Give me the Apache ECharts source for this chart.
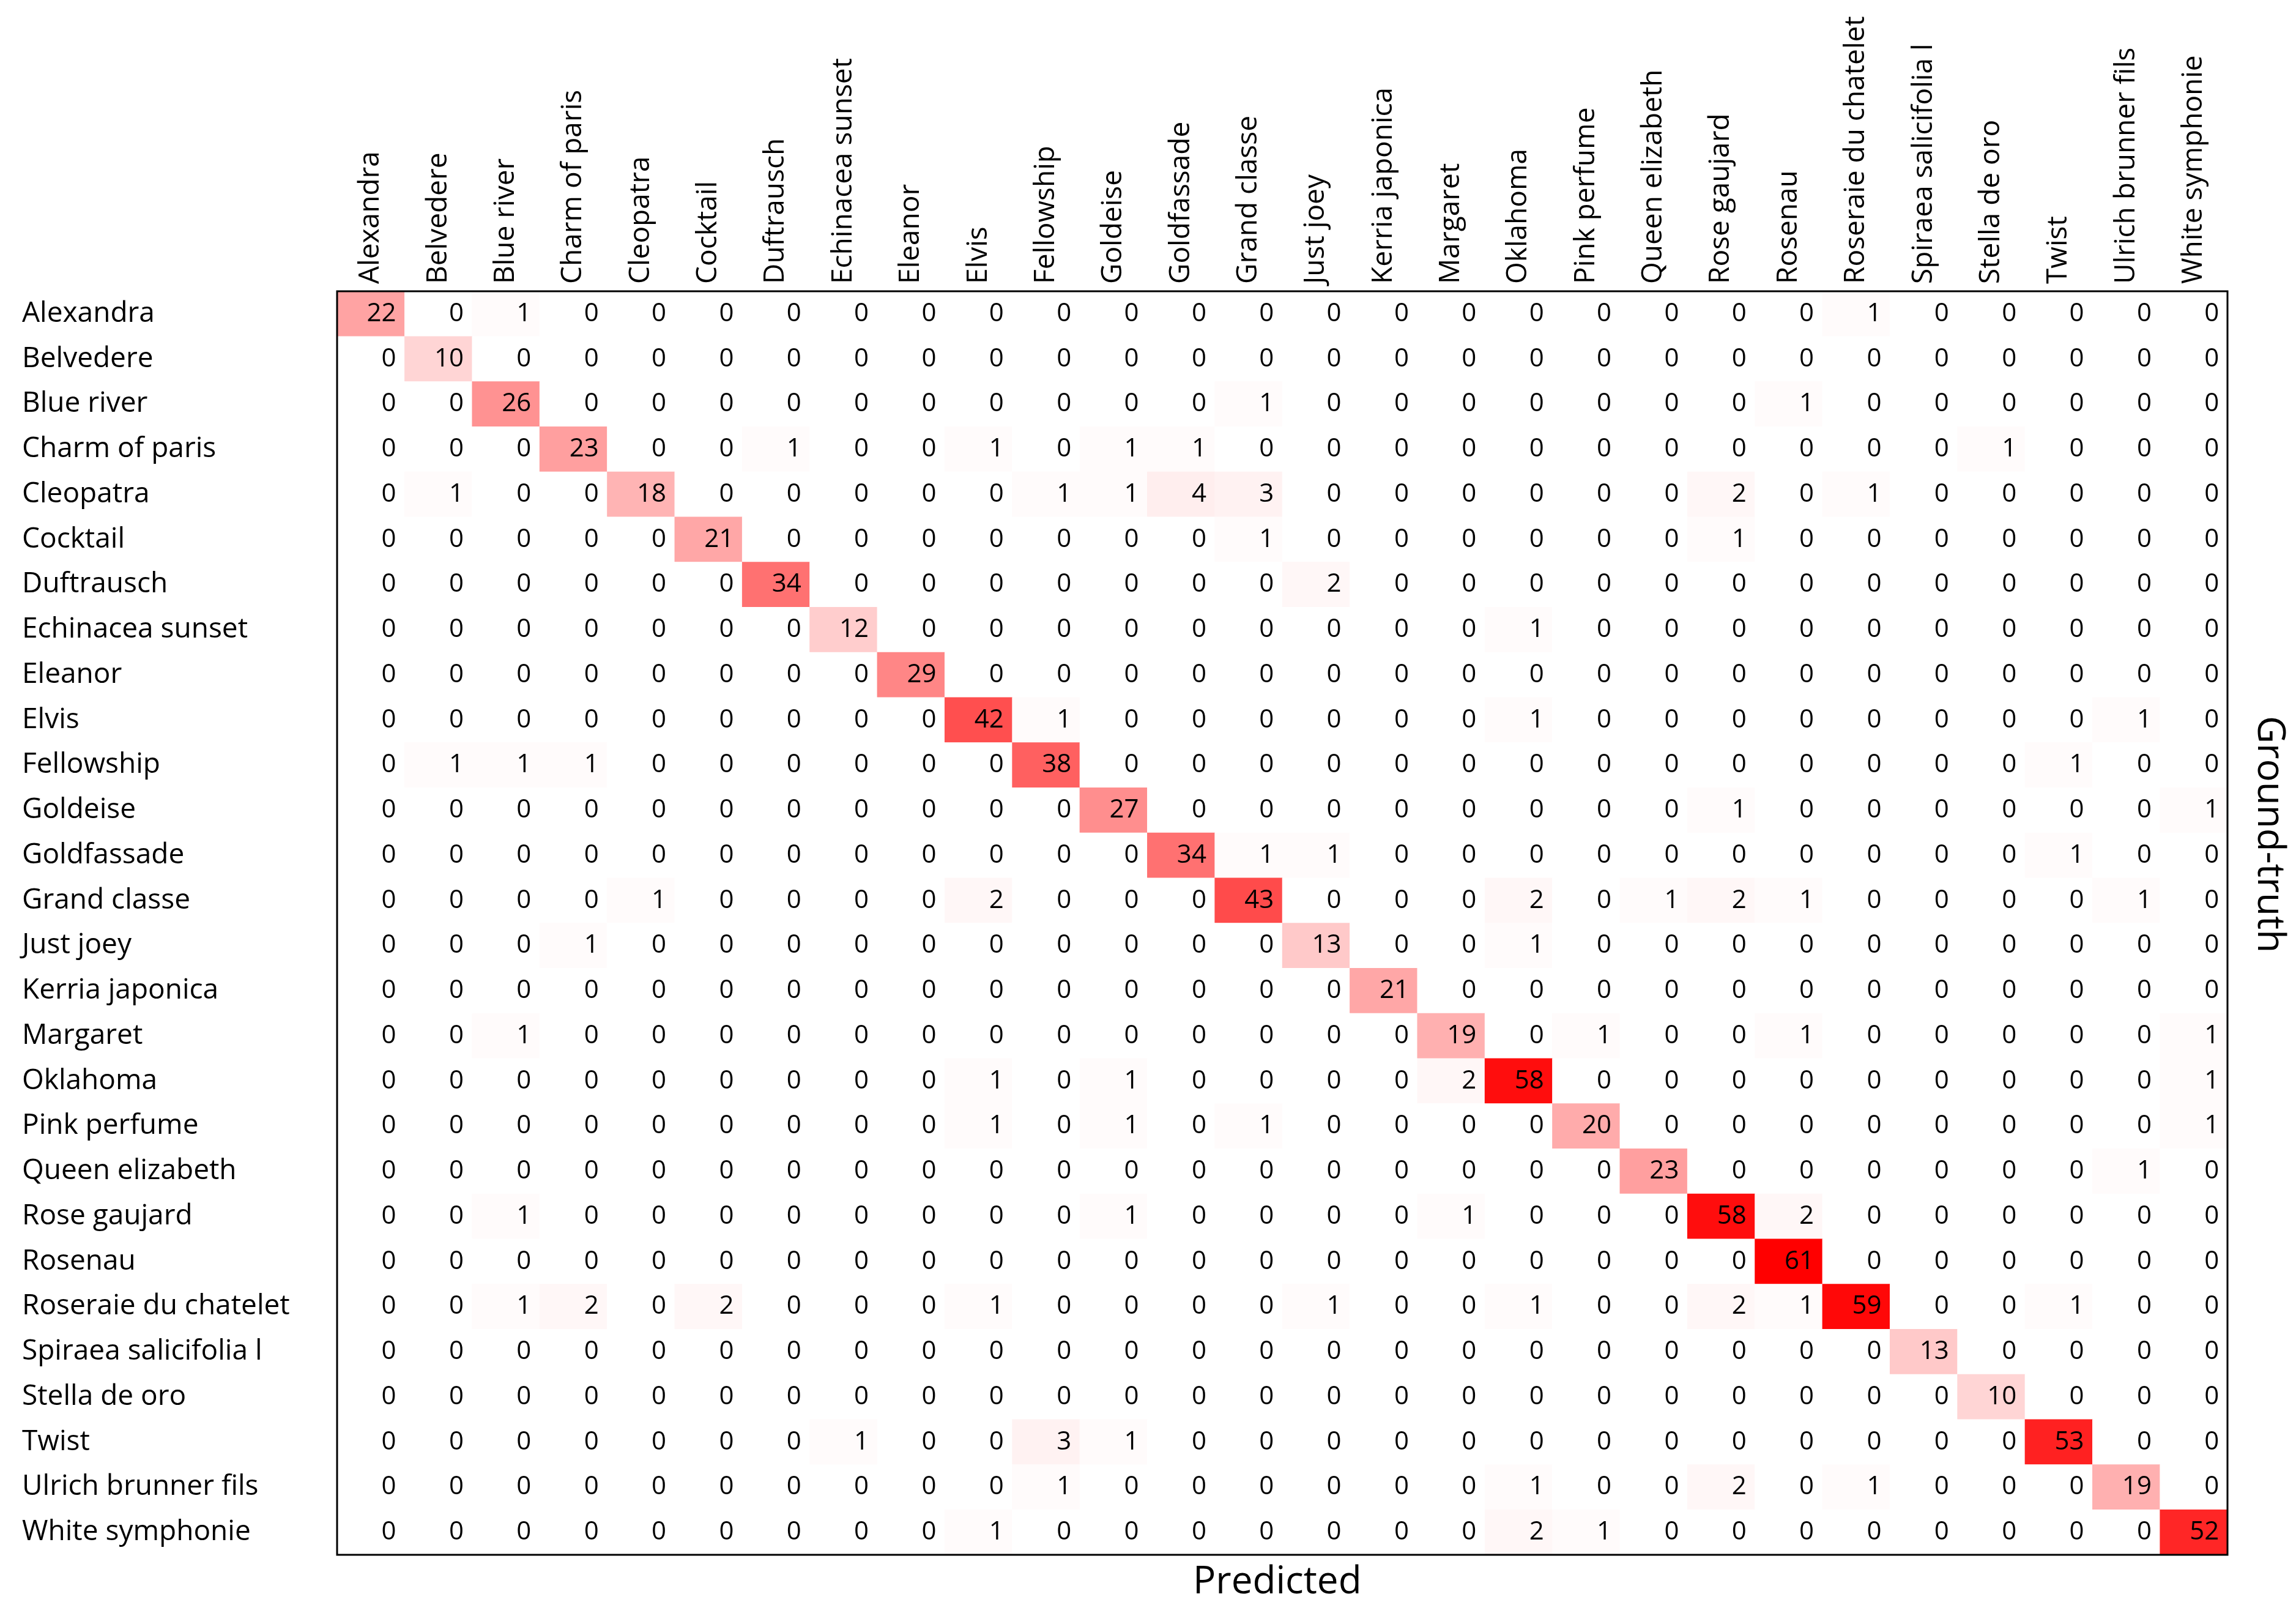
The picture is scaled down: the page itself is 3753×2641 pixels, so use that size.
<!DOCTYPE html>
<html>
<head>
<meta charset="utf-8">
<script src="https://cdn.jsdelivr.net/npm/echarts@6/dist/echarts.min.js"></script>
<style>html,body{margin:0;padding:0;background:#fff}#chart{width:3753px;height:2641px}</style>
</head>
<body>
<div id="chart"></div>
<script>
var classes = ['Alexandra','Belvedere','Blue river','Charm of paris','Cleopatra','Cocktail','Duftrausch','Echinacea sunset','Eleanor','Elvis','Fellowship','Goldeise','Goldfassade','Grand classe','Just joey','Kerria japonica','Margaret','Oklahoma','Pink perfume','Queen elizabeth','Rose gaujard','Rosenau','Roseraie du chatelet','Spiraea salicifolia l','Stella de oro','Twist','Ulrich brunner fils','White symphonie'];

// non-zero cells per ground-truth row: [predicted column index, count]
var rowAlexandra = [[0,22],[2,1],[22,1]];
var rowBelvedere = [[1,10]];
var rowBlueRiver = [[2,26],[13,1],[21,1]];
var rowCharm = [[3,23],[6,1],[9,1],[11,1],[12,1],[24,1]];
var rowCleopatra = [[1,1],[4,18],[10,1],[11,1],[12,4],[13,3],[20,2],[22,1]];
var rowCocktail = [[5,21],[13,1],[20,1]];
var rowDuftrausch = [[6,34],[14,2]];
var rowEchinacea = [[7,12],[17,1]];
var rowEleanor = [[8,29]];
var rowElvis = [[9,42],[10,1],[17,1],[26,1]];
var rowFellowship = [[1,1],[2,1],[3,1],[10,38],[25,1]];
var rowGoldeise = [[11,27],[20,1],[27,1]];
var rowGoldfassade = [[12,34],[13,1],[14,1],[25,1]];
var rowGrandClasse = [[4,1],[9,2],[13,43],[17,2],[19,1],[20,2],[21,1],[26,1]];
var rowJustJoey = [[3,1],[14,13],[17,1]];
var rowKerria = [[15,21]];
var rowMargaret = [[2,1],[16,19],[18,1],[21,1],[27,1]];
var rowOklahoma = [[9,1],[11,1],[16,2],[17,58],[27,1]];
var rowPinkPerfume = [[9,1],[11,1],[13,1],[18,20],[27,1]];
var rowQueen = [[19,23],[26,1]];
var rowRoseGaujard = [[2,1],[11,1],[16,1],[20,58],[21,2]];
var rowRosenau = [[21,61]];
var rowRoseraie = [[2,1],[3,2],[5,2],[9,1],[14,1],[17,1],[20,2],[21,1],[22,59],[25,1]];
var rowSpiraea = [[23,13]];
var rowStella = [[24,10]];
var rowTwist = [[7,1],[10,3],[11,1],[25,53]];
var rowUlrich = [[10,1],[17,1],[20,2],[22,1],[26,19]];
var rowWhite = [[9,1],[17,2],[18,1],[27,52]];

var rows = [rowAlexandra,rowBelvedere,rowBlueRiver,rowCharm,rowCleopatra,rowCocktail,rowDuftrausch,rowEchinacea,rowEleanor,rowElvis,rowFellowship,rowGoldeise,rowGoldfassade,rowGrandClasse,rowJustJoey,rowKerria,rowMargaret,rowOklahoma,rowPinkPerfume,rowQueen,rowRoseGaujard,rowRosenau,rowRoseraie,rowSpiraea,rowStella,rowTwist,rowUlrich,rowWhite];

var data = [];
rows.forEach(function (row, r) {
  var full = classes.map(function () { return 0; });
  row.forEach(function (c) { full[c[0]] = c[1]; });
  full.forEach(function (v, c) { data.push([c, r, v]); });
});

var font = 'Open Sans';
var chart = echarts.init(document.getElementById('chart'));
chart.setOption({
  backgroundColor: '#fff',
  textStyle: { fontFamily: font },
  grid: { left: 551, right: 112, top: 476, bottom: 100, show: true, borderColor: '#000', borderWidth: 3, backgroundColor: 'transparent', z: 10 },
  xAxis: {
    type: 'category', data: classes, position: 'top',
    axisLine: { show: false }, axisTick: { show: false }, splitLine: { show: false },
    axisLabel: { rotate: -90, fontSize: 46, color: '#000', margin: 12, interval: 0 }
  },
  yAxis: {
    type: 'category', data: classes, inverse: true,
    axisLine: { show: false }, axisTick: { show: false }, splitLine: { show: false },
    axisLabel: { fontSize: 46, color: '#000', align: 'left', margin: 515, interval: 0 }
  },
  visualMap: { show: false, min: 0, max: 61, dimension: 2, inRange: { color: ['#ffffff', '#ff0000'] } },
  graphic: [
    { type: 'text', left: 1950, top: 2555, style: { text: 'Predicted', fontSize: 62, fontFamily: font, fill: '#000' } },
    { type: 'text', rotation: -Math.PI / 2, x: 3740, y: 1170, style: { text: 'Ground-truth', fontSize: 62, fontFamily: font, fill: '#000' } }
  ],
  series: [{
    type: 'heatmap', data: data,
    label: { show: true, position: 'insideRight', distance: 14, fontSize: 42, color: '#000', fontFamily: font },
    itemStyle: { borderWidth: 0 }
  }]
});
</script>
</body>
</html>
